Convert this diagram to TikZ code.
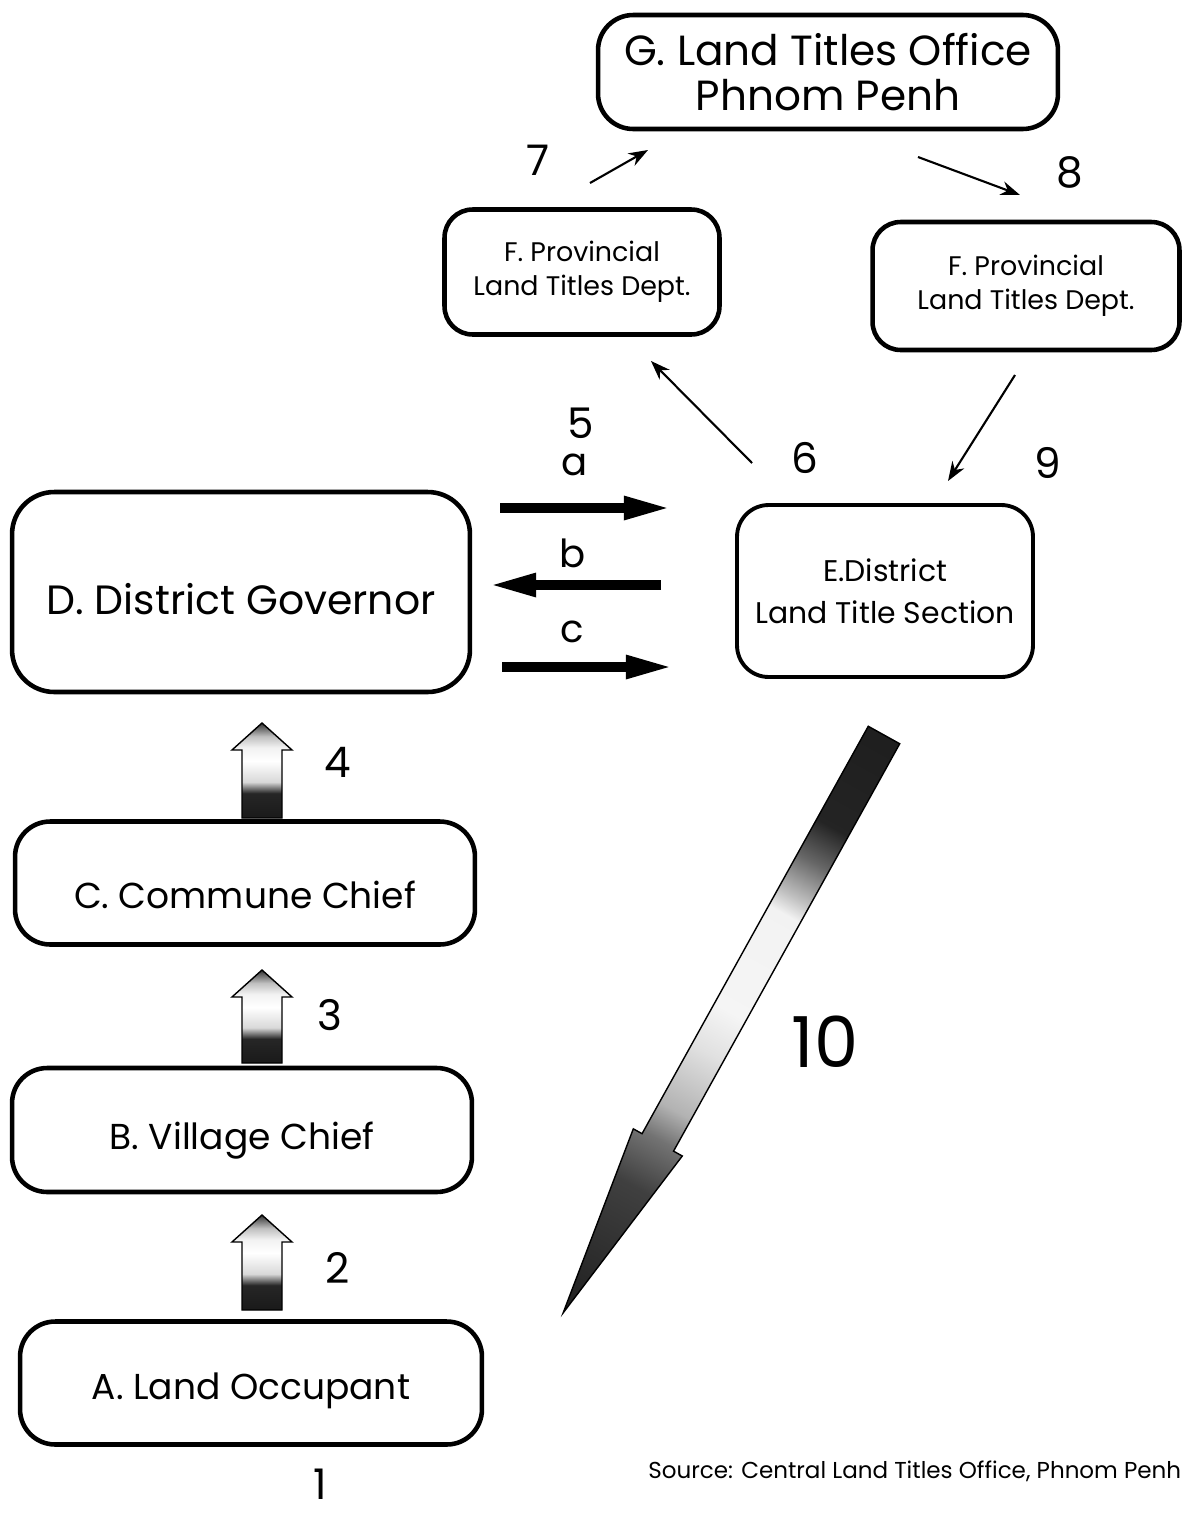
\documentclass[tikz,border=0pt]{standalone}
\usepackage{fontspec}
\setmainfont{Poppins}
\usetikzlibrary{arrows.meta,calc}
\pgfdeclareverticalshading{uparr}{100bp}{color(0bp)=(black!90); color(25bp)=(black!90); color(38bp)=(black!85); color(44bp)=(black!15); color(55bp)=(white); color(62bp)=(black!5); color(68bp)=(black!25); color(75bp)=(black!80); color(100bp)=(black!80)}
\pgfdeclarehorizontalshading{bigarr}{100bp}{color(0bp)=(black!88); color(25bp)=(black!88); color(33bp)=(black!86); color(36bp)=(black!60); color(39bp)=(black!25); color(40.5bp)=(black!5); color(49bp)=(black!4); color(52.5bp)=(black!12); color(57.5bp)=(black!30); color(60bp)=(black!55); color(64bp)=(black!75); color(75bp)=(black!88); color(100bp)=(black!88)}
\newcommand{\dnshift}[2]{\raisebox{-#1}[\height][\depth]{#2}}
\tikzset{
  box/.style={draw, line width=2.6pt, rounded corners=20pt, align=center, inner sep=0pt},
  num/.style={font=\fontsize{24}{24}\selectfont, inner sep=0pt},
  thin/.style={line width=1.2pt, -{Stealth[length=11pt,width=8pt]}},
  thick/.style={line width=6pt, -{Triangle[length=28pt,width=12pt]}},
  blockarr/.style={shading=uparr, draw=black, line width=0.8pt},
}
\begin{document}
\begin{tikzpicture}[x=0.02cm,y=-0.02cm]
\useasboundingbox (0,0) rectangle (1183,1515);
% boxes
\node[box, minimum width=9.2cm, minimum height=2.28cm, font=\fontsize{24}{26}\selectfont] (G) at (828,72) {G. Land Titles Office\\Phnom Penh};
\node[box, rounded corners=16pt, minimum width=5.5cm, minimum height=2.5cm, font=\fontsize{15.3}{19.5}\selectfont] (F1) at (582,272) {F. Provincial\\Land Titles Dept.};
\node[box, rounded corners=16pt, minimum width=6.14cm, minimum height=2.56cm, font=\fontsize{15.3}{19.5}\selectfont] (F2) at (1026,286) {F. Provincial\\Land Titles Dept.};
\node[box, rounded corners=24pt, minimum width=9.16cm, minimum height=4cm, font=\fontsize{23.3}{28}\selectfont] (D) at (241,592) {\dnshift{4pt}{D. District Governor}};
\node[box, line width=2.2pt, rounded corners=18pt, minimum width=5.92cm, minimum height=3.44cm, font=\fontsize{17}{24}\selectfont] (E) at (885,591) {E.District\\Land Title Section};
\node[box, minimum width=9.2cm, minimum height=2.46cm, font=\fontsize{20.5}{24}\selectfont] (C) at (245,883) {\dnshift{7pt}{C. Commune Chief}};
\node[box, minimum width=9.2cm, minimum height=2.48cm, font=\fontsize{20.5}{24}\selectfont] (B) at (242,1130) {\dnshift{6pt}{B. Village Chief}};
\node[box, minimum width=9.24cm, minimum height=2.46cm, font=\fontsize{20.5}{24}\selectfont] (A) at (251,1383) {\dnshift{4.5pt}{A. Land Occupant}};
% labels
\node[num] (n7) at (538,160) {7};
\node[num] (n8) at (1070,172) {8};
\node[num] (n6) at (805,458) {6};
\node[num] (n9) at (1048,463) {9};
\node[num] (n5) at (581,423) {5};
\node[num, font=\fontsize{22}{22}\selectfont] (la) at (575,465) {a};
\node[num, font=\fontsize{22}{22}\selectfont] (lb) at (573,553) {b};
\node[num, font=\fontsize{22}{22}\selectfont] (lc) at (572,632) {c};
\node[num] (n4) at (338,762) {4};
\node[num] (n3) at (330,1015) {3};
\node[num] (n2) at (338,1268) {2};
\node[num, font=\fontsize{40}{40}\selectfont] (n10) at (825,1042) {10};
\node[num, font=\fontsize{24}{24}\selectfont] (n1) at (320,1484) {1};
\node[anchor=west, inner sep=0pt, font=\fontsize{13.1}{15}\selectfont] (src) at (648,1471) {Source: Central Land Titles Office, Phnom Penh};
% thin arrows
\coordinate (a7s) at (590,183); \coordinate (a7e) at (648,150);
\coordinate (a8s) at (918,157); \coordinate (a8e) at (1020,195);
\coordinate (a6s) at (752,463); \coordinate (a6e) at (651,361);
\coordinate (a9s) at (1015,375); \coordinate (a9e) at (948,481);
\draw[thin] (a7s) -- (a7e);
\draw[thin] (a8s) -- (a8e);
\draw[thin] (a6s) -- (a6e);
\draw[thin] (a9s) -- (a9e);
% thick arrows a b c
\coordinate (as) at (500,508); \coordinate (ae) at (673,508);
\coordinate (bs) at (661,585); \coordinate (be) at (487,585);
\coordinate (cs) at (502,667); \coordinate (ce) at (675,667);
\draw[thick] (as) -- (ae);
\draw[thick] (bs) -- (be);
\draw[thick] (cs) -- (ce);
% block arrows
\foreach \nm/\cx/\yt/\yb in {four/262/723/818, three/262/970/1063, two/262/1215/1310}{
  \shade[blockarr] (\cx-20,\yb) -- (\cx-20,\yt+27) -- (\cx-30,\yt+27) -- (\cx,\yt) -- (\cx+30,\yt+27) -- (\cx+20,\yt+27) -- (\cx+20,\yb) -- cycle;
}
% big arrow 10
\coordinate (S0) at (884,735);
\coordinate (T0) at (563,1313);
\begin{scope}[transform canvas={shift={(S0)}, rotate=240.96}]
  \shade[shading=bigarr, draw=black, line width=0.8pt] (0,-18) -- (466,-18) -- (466,-28) -- (661,0) -- (466,28) -- (466,18) -- (0,18) -- cycle;
\end{scope}
\end{tikzpicture}
\end{document}
